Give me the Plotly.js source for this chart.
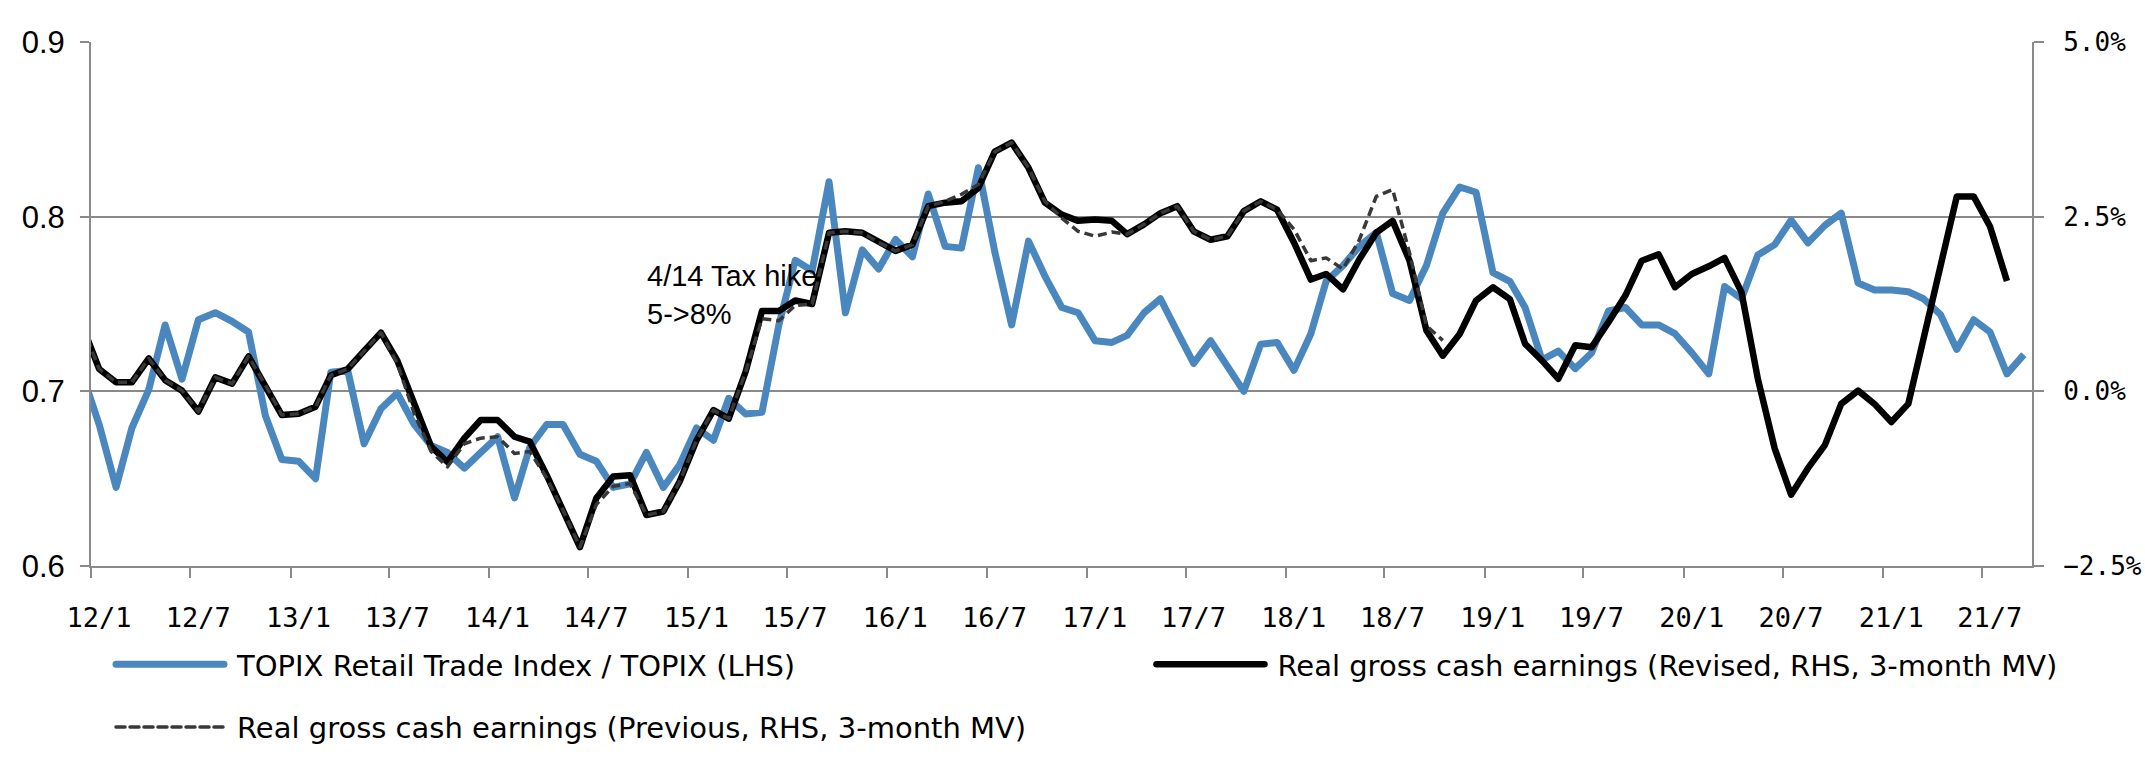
<!DOCTYPE html>
<html>
<head>
<meta charset="utf-8">
<script src="https://cdn.plot.ly/plotly-3.0.1.min.js"></script>
<style>
  html, body { margin: 0; padding: 0; background: #ffffff; }
  #chart { width: 2145px; height: 764px; }
  .js-line { stroke-linejoin: round; }
</style>
</head>
<body>
<div id="chart"></div>
<script>
// Monthly observations, first entry = 2011/12 (partly outside the axis, clipped), then 2012/1 ...
const startYear = 2011, startMonth = 12;

// TOPIX Retail Trade Index / TOPIX (LHS)
const retailRatio = [
  0.710,
  0.681, 0.645, 0.679, 0.701, 0.738, 0.707, 0.741, 0.745, 0.740, 0.734, 0.686, 0.661, // 2012
  0.660, 0.650, 0.711, 0.712, 0.670, 0.690, 0.699, 0.681, 0.669, 0.665, 0.656, 0.665, // 2013
  0.674, 0.639, 0.668, 0.681, 0.681, 0.664, 0.660, 0.645, 0.647, 0.665, 0.645, 0.658, // 2014
  0.679, 0.672, 0.696, 0.687, 0.688, 0.738, 0.775, 0.769, 0.820, 0.745, 0.781, 0.770, // 2015
  0.787, 0.777, 0.813, 0.783, 0.782, 0.828, 0.780, 0.738, 0.786, 0.766, 0.748, 0.745, // 2016
  0.729, 0.728, 0.732, 0.745, 0.753, 0.734, 0.716, 0.729, 0.714, 0.700, 0.727, 0.728, // 2017
  0.712, 0.733, 0.763, 0.772, 0.783, 0.791, 0.756, 0.752, 0.772, 0.802, 0.817, 0.814, // 2018
  0.768, 0.763, 0.748, 0.718, 0.723, 0.713, 0.722, 0.746, 0.748, 0.738, 0.738, 0.733, // 2019
  0.722, 0.710, 0.760, 0.753, 0.778, 0.784, 0.798, 0.785, 0.795, 0.802, 0.762, 0.758, // 2020
  0.758, 0.757, 0.753, 0.744, 0.724, 0.741, 0.734, 0.710, 0.721                      // 2021
];

// Real gross cash earnings, revised, 3-month MV (%, RHS)
const earningsRevised = [
  0.94,
  0.32, 0.13, 0.13, 0.47, 0.16, 0.01, -0.29, 0.20, 0.11, 0.50, 0.09, -0.34,          // 2012
  -0.32, -0.22, 0.23, 0.32, 0.58, 0.84, 0.44, -0.20, -0.79, -1.01, -0.67, -0.41,     // 2013
  -0.41, -0.65, -0.72, -1.20, -1.70, -2.23, -1.53, -1.22, -1.20, -1.77, -1.72, -1.29, // 2014
  -0.70, -0.27, -0.39, 0.28, 1.15, 1.15, 1.30, 1.25, 2.27, 2.29, 2.27, 2.13,         // 2015
  2.01, 2.10, 2.65, 2.70, 2.72, 2.91, 3.43, 3.56, 3.20, 2.70, 2.53, 2.44,            // 2016
  2.46, 2.44, 2.25, 2.39, 2.55, 2.65, 2.29, 2.17, 2.22, 2.58, 2.72, 2.60,            // 2017
  2.13, 1.60, 1.68, 1.46, 1.89, 2.27, 2.44, 1.87, 0.87, 0.51, 0.82, 1.30,            // 2018
  1.49, 1.32, 0.68, 0.44, 0.18, 0.66, 0.63, 0.99, 1.37, 1.87, 1.96, 1.49,            // 2019
  1.68, 1.79, 1.91, 1.42, 0.18, -0.82, -1.48, -1.10, -0.77, -0.18, 0.01, -0.18,      // 2020
  -0.44, -0.18, 0.73, 1.79, 2.79, 2.79, 2.36, 1.58                                   // 2021
];

// Real gross cash earnings, previous, 3-month MV (%, RHS)
const earningsPrevious = [
  0.94,
  0.32, 0.13, 0.13, 0.47, 0.16, 0.01, -0.29, 0.20, 0.11, 0.50, 0.09, -0.34,          // 2012
  -0.32, -0.22, 0.23, 0.32, 0.58, 0.84, 0.40, -0.32, -0.86, -1.08, -0.75, -0.67,     // 2013
  -0.65, -0.89, -0.86, -1.24, -1.70, -2.23, -1.62, -1.36, -1.32, -1.77, -1.72, -1.29, // 2014
  -0.70, -0.27, -0.39, 0.28, 1.04, 1.01, 1.23, 1.25, 2.27, 2.29, 2.27, 2.13,         // 2015
  2.01, 2.10, 2.65, 2.72, 2.82, 2.96, 3.43, 3.56, 3.20, 2.72, 2.48, 2.29,            // 2016
  2.22, 2.28, 2.25, 2.39, 2.55, 2.65, 2.29, 2.17, 2.22, 2.58, 2.72, 2.60,            // 2017
  2.32, 1.87, 1.91, 1.75, 2.17, 2.79, 2.89, 1.98, 0.94, 0.73                         // 2018
];

const tickDates = ['2012-01-01','2012-07-01','2013-01-01','2013-07-01','2014-01-01','2014-07-01',
  '2015-01-01','2015-07-01','2016-01-01','2016-07-01','2017-01-01','2017-07-01','2018-01-01',
  '2018-07-01','2019-01-01','2019-07-01','2020-01-01','2020-07-01','2021-01-01','2021-07-01'];
const tickLabels = ['12/1','12/7','13/1','13/7','14/1','14/7','15/1','15/7','16/1','16/7',
  '17/1','17/7','18/1','18/7','19/1','19/7','20/1','20/7','21/1','21/7'];

const seriesNames = [
  'TOPIX Retail Trade Index / TOPIX (LHS)',
  'Real gross cash earnings (Revised, RHS, 3-month MV)',
  'Real gross cash earnings (Previous, RHS, 3-month MV)'
];

function monthDates(n) {
  const out = [];
  let y = startYear, m = startMonth;
  for (let i = 0; i < n; i++) {
    out.push(y + '-' + String(m).padStart(2, '0') + '-16');
    m++; if (m > 12) { m = 1; y++; }
  }
  return out;
}

const grey = '#8a8a8a';
const monoFont = 'DejaVu Sans Mono, monospace';
const sansFont = 'Liberation Sans, Arial, sans-serif';

const traces = [
  {
    x: monthDates(retailRatio.length), y: retailRatio, name: seriesNames[0],
    type: 'scatter', mode: 'lines', yaxis: 'y', legend: 'legend',
    line: { color: '#4a87bf', width: 7 }, hoverinfo: 'skip'
  },
  {
    x: monthDates(earningsRevised.length), y: earningsRevised, name: seriesNames[1],
    type: 'scatter', mode: 'lines', yaxis: 'y2', legend: 'legend2',
    line: { color: '#000000', width: 6.5 }, hoverinfo: 'skip'
  },
  {
    x: monthDates(earningsPrevious.length), y: earningsPrevious, name: seriesNames[2],
    type: 'scatter', mode: 'lines', yaxis: 'y2', legend: 'legend3',
    line: { color: '#383838', width: 3.5, dash: '9px,5px' }, hoverinfo: 'skip'
  }
];

const legendBase = {
  orientation: 'v', xanchor: 'left', yanchor: 'middle',
  bgcolor: 'rgba(0,0,0,0)', borderwidth: 0, itemwidth: 119,
  font: { family: 'DejaVu Sans, sans-serif', size: 29, color: '#000000' },
  itemclick: false, itemdoubleclick: false
};

const layout = {
  width: 2145, height: 764,
  margin: { l: 91, r: 113, t: 42, b: 196, pad: 0 },
  paper_bgcolor: '#ffffff', plot_bgcolor: '#ffffff',
  showlegend: true,
  xaxis: {
    type: 'date', range: ['2012-01-01', '2021-10-01'],
    tickmode: 'array', tickvals: tickDates, ticktext: tickLabels,
    ticklabelshift: 8, ticklabelstandoff: 17,
    ticks: 'outside', ticklen: 10, tickwidth: 2, tickcolor: grey,
    showline: true, linecolor: grey, linewidth: 2,
    showgrid: false, zeroline: false,
    tickfont: { family: monoFont, size: 27, color: '#000000' }
  },
  yaxis: {
    range: [0.6, 0.9], tickmode: 'linear', tick0: 0.6, dtick: 0.1, tickformat: '.1f',
    ticks: 'outside', ticklen: 9, tickwidth: 2, tickcolor: grey,
    showline: true, linecolor: grey, linewidth: 2,
    showgrid: true, gridcolor: grey, gridwidth: 2, zeroline: false,
    ticklabelstandoff: 9,
    tickfont: { family: sansFont, size: 31, color: '#000000' }
  },
  yaxis2: {
    overlaying: 'y', side: 'right',
    range: [-2.5, 5], tickmode: 'linear', tick0: -2.5, dtick: 2.5, tickformat: '.1f', ticksuffix: '%',
    ticks: 'outside', ticklen: 10, tickwidth: 2, tickcolor: grey,
    showline: true, linecolor: grey, linewidth: 2,
    showgrid: false, zeroline: false,
    ticklabelstandoff: 14,
    tickfont: { family: monoFont, size: 26, color: '#000000' }
  },
  legend: Object.assign({}, legendBase, { x: 0.00876, y: -0.188 }),
  legend2: Object.assign({}, legendBase, { x: 0.5448, y: -0.188 }),
  legend3: Object.assign({}, legendBase, { x: 0.00876, y: -0.3075 }),
  annotations: [
    {
      xref: 'paper', yref: 'paper', x: 0.2855, y: 0.5166,
      xanchor: 'left', yanchor: 'middle', align: 'left', showarrow: false,
      text: '4/14 Tax hike<br>5->8%',
      font: { family: sansFont, size: 29, color: '#000000' }
    }
  ]
};

function patchLegend() {
  document.querySelectorAll('.legendlines path').forEach(function (p) {
    p.setAttribute('d', 'M8,0h108');
    p.style.strokeLinecap = 'round';
  });
}

const gd = document.getElementById('chart');
Plotly.newPlot(gd, traces, layout, { staticPlot: true, displayModeBar: false }).then(function () {
  patchLegend();
  gd.on('plotly_afterplot', patchLegend);
});
</script>
</body>
</html>
